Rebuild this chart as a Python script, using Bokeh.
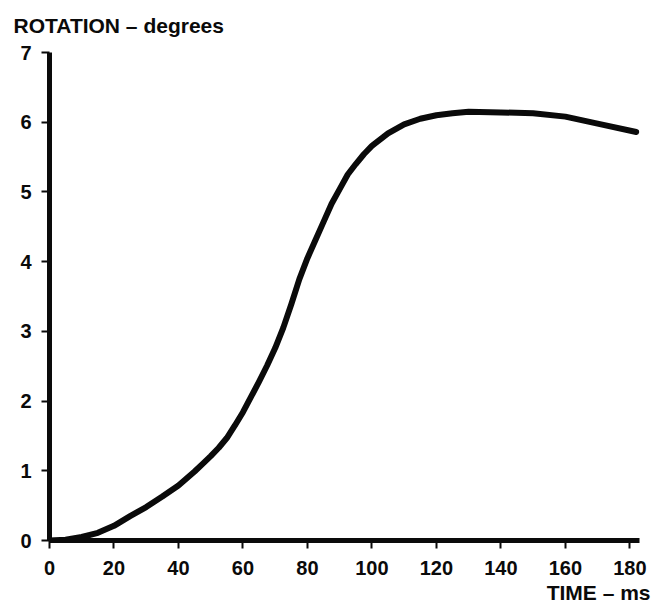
from bokeh.plotting import figure
from bokeh.models import Range1d, FixedTicker, Title
from bokeh.embed import file_html
from bokeh.resources import INLINE

# data
time_ms = [0, 5, 10, 15, 20, 25, 30, 35, 40, 45, 47.5, 50, 52.5, 55, 57.5, 60, 62.5, 65,
           67.5, 70, 72.5, 75, 77.5, 80, 82.5, 85, 87.5, 90, 92.5, 95, 97.5, 100, 105,
           110, 115, 120, 125, 130, 140, 150, 160, 170, 182]
rotation_deg = [0, 0.01, 0.05, 0.11, 0.21, 0.35, 0.48, 0.63, 0.79, 0.99, 1.10, 1.21,
                1.33, 1.47, 1.65, 1.84, 2.06, 2.28, 2.51, 2.76, 3.05, 3.39, 3.75, 4.05,
                4.31, 4.57, 4.83, 5.04, 5.25, 5.40, 5.54, 5.66, 5.84, 5.97, 6.05, 6.10,
                6.13, 6.15, 6.14, 6.13, 6.08, 5.98, 5.86]
x_ticks = [0, 20, 40, 60, 80, 100, 120, 140, 160, 180]
y_ticks = [0, 1, 2, 3, 4, 5, 6, 7]
y_title = "ROTATION – degrees"
x_title = "TIME – ms"

FONT = "Liberation Sans"
INK = "#0a0a0a"

p = figure(width=653, height=613, output_backend="svg", toolbar_location=None,
           x_range=Range1d(0, 183), y_range=Range1d(0, 7),
           min_border_left=49, min_border_right=14, min_border_top=51, min_border_bottom=73)
p.outline_line_color = None
p.xgrid.visible = False
p.ygrid.visible = False
p.background_fill_color = "white"
p.border_fill_color = "white"

p.title.text = y_title
p.title.align = "left"
p.title.vertical_align = "top"
p.title.offset = -36
p.title.standoff = 27
p.title.text_font = FONT
p.title.text_font_style = "bold"
p.title.text_font_size = "21px"
p.title.text_color = INK

for ax in (p.xaxis[0], p.yaxis[0]):
    ax.axis_line_width = 5
    ax.axis_line_color = INK
    ax.major_tick_line_width = 2
    ax.major_tick_line_color = INK
    ax.major_tick_in = 0
    ax.major_tick_out = 8
    ax.minor_tick_line_color = None
    ax.major_label_text_font = FONT
    ax.major_label_text_font_style = "bold"
    ax.major_label_text_font_size = "20px"
    ax.major_label_text_color = INK

p.xaxis[0].ticker = FixedTicker(ticks=x_ticks)
p.yaxis[0].ticker = FixedTicker(ticks=y_ticks)
p.xaxis[0].major_label_standoff = 12
p.yaxis[0].major_label_standoff = 10

x_lab = Title(text=x_title, align="right", vertical_align="bottom", offset=-11, standoff=2,
              text_font=FONT, text_font_style="bold", text_font_size="21px", text_color=INK)
p.add_layout(x_lab, "below")

p.line(time_ms, rotation_deg, line_width=6, line_color=INK, line_cap="round", line_join="round")

open("out.html", "w").write(file_html(p, INLINE))
